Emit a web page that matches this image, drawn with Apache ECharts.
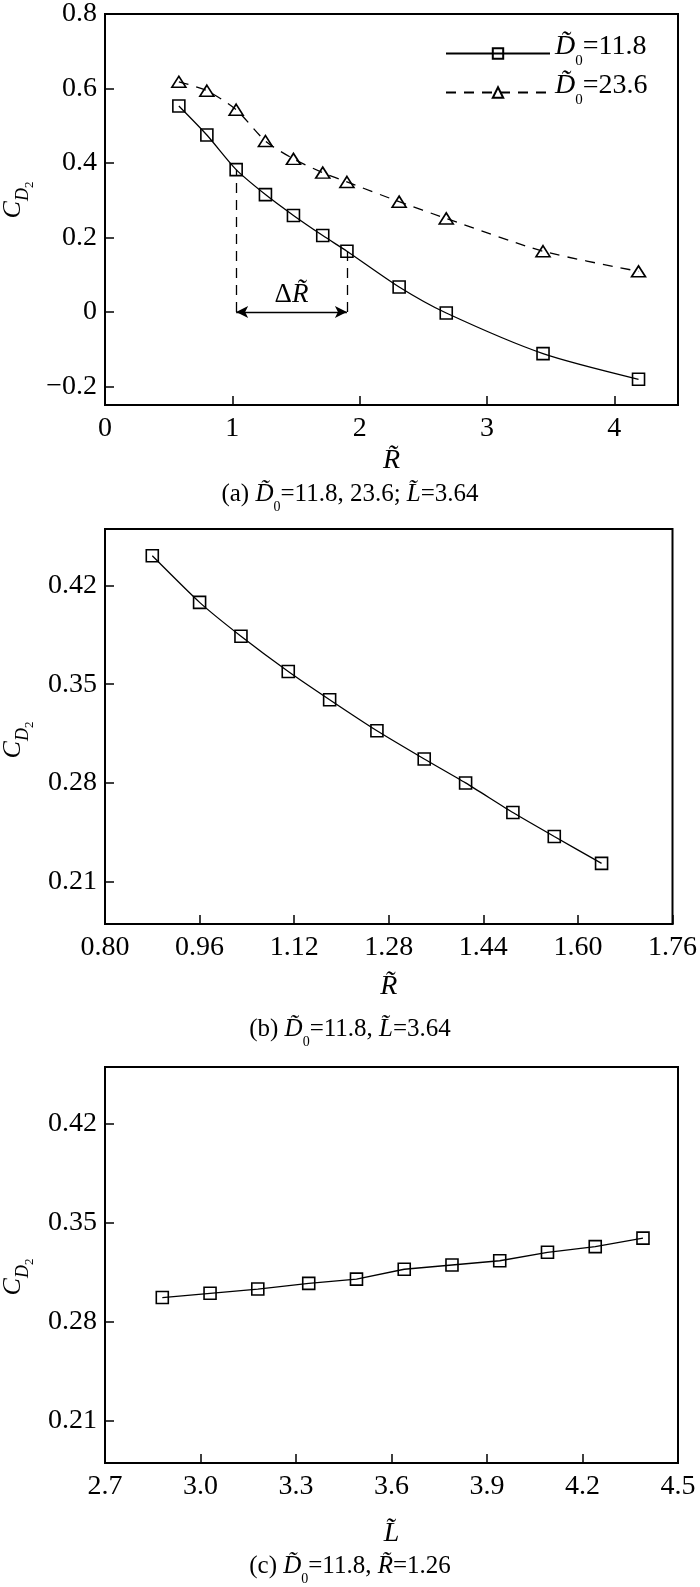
<!DOCTYPE html>
<html>
<head>
<meta charset="utf-8">
<script src="https://cdn.jsdelivr.net/npm/echarts@6/dist/echarts.min.js"></script>
<style>
html,body{margin:0;padding:0;background:#fff;}
#chart{width:700px;height:1587px;}
</style>
</head>
<body>
<div id="chart"></div>
<script>
// ---------- data ----------
// panel (a): C_D2 vs R~ for two D~0 values
const rA = [0.58, 0.80, 1.03, 1.26, 1.48, 1.71, 1.90, 2.31, 2.68, 3.44, 4.19];
const cdA_118 = [0.553, 0.475, 0.382, 0.315, 0.259, 0.205, 0.163, 0.067, -0.003, -0.112, -0.181];
const cdA_236 = [0.618, 0.594, 0.543, 0.459, 0.411, 0.374, 0.349, 0.296, 0.251, 0.163, 0.109];
const seriesNamesA = ['11.8', '23.6'];
// panel (b): C_D2 vs R~
const rB = [0.88, 0.96, 1.03, 1.11, 1.18, 1.26, 1.34, 1.41, 1.49, 1.56, 1.64];
const cdB = [0.441, 0.408, 0.384, 0.359, 0.339, 0.317, 0.297, 0.280, 0.259, 0.242, 0.223];
// panel (c): C_D2 vs L~
const lC = [2.88, 3.03, 3.18, 3.34, 3.49, 3.64, 3.79, 3.94, 4.09, 4.24, 4.39];
const cdC = [0.297, 0.300, 0.303, 0.307, 0.310, 0.317, 0.320, 0.323, 0.329, 0.333, 0.339];

// ticks and labels
const xTicksA = [0, 1, 2, 3, 4];
const xLabelsA = ['0', '1', '2', '3', '4'];
const yTicksA = [-0.2, 0, 0.2, 0.4, 0.6, 0.8];
const yLabelsA = ['\u22120.2', '0', '0.2', '0.4', '0.6', '0.8'];
const xTicksB = [0.80, 0.96, 1.12, 1.28, 1.44, 1.60, 1.76];
const xLabelsB = ['0.80', '0.96', '1.12', '1.28', '1.44', '1.60', '1.76'];
const yTicksBC = [0.21, 0.28, 0.35, 0.42];
const yLabelsBC = ['0.21', '0.28', '0.35', '0.42'];
const xTicksC = [2.7, 3.0, 3.3, 3.6, 3.9, 4.2, 4.5];
const xLabelsC = ['2.7', '3.0', '3.3', '3.6', '3.9', '4.2', '4.5'];

// ---------- helpers ----------
const FONT = '"Liberation Serif", "Times New Roman", serif';
const BLACK = '#000';
function pairs(xs, ys) { return xs.map((x, i) => [x, ys[i]]); }
function labeler(ticks, labels) {
  return function (v) {
    const i = ticks.findIndex(t => Math.abs(t - v) < 1e-9);
    return i >= 0 ? labels[i] : '';
  };
}
function makeSubRich(size, subSize, drop) {
  const main = { fontFamily: FONT, fontSize: size, lineHeight: size + 3, color: BLACK, padding: [0, 0, drop, 0], verticalAlign: 'bottom' };
  return {
    t: main,
    i: Object.assign({}, main, { fontStyle: 'italic' }),
    s: { fontFamily: FONT, fontSize: subSize, lineHeight: subSize + 1, color: BLACK, verticalAlign: 'bottom' }
  };
}
const richCaption = makeSubRich(25, 14, 7);
const richLegend = makeSubRich(28, 15, 8);
const richCD = {
  c: { fontFamily: FONT, fontSize: 26, lineHeight: 28, fontStyle: 'italic', color: BLACK, padding: [0, 0, 10, 0], verticalAlign: 'bottom' },
  d: { fontFamily: FONT, fontSize: 18, lineHeight: 20, fontStyle: 'italic', color: BLACK, padding: [0, 0, 4, 0], verticalAlign: 'bottom' },
  n: { fontFamily: FONT, fontSize: 13, lineHeight: 14, color: BLACK, verticalAlign: 'bottom' }
};
const cdText = '{c|C}{d|D}{n|2}';

function xAxisDef(gi, min, max, ticks, labels, nameChar, nameGap) {
  return {
    type: 'value', gridIndex: gi, min: min, max: max,
    name: '{r|' + nameChar + '\u0303}', nameLocation: 'middle', nameGap: nameGap,
    nameTextStyle: { rich: { r: { fontFamily: FONT, fontSize: 28, fontStyle: 'italic', color: BLACK } } },
    axisLine: { show: true, onZero: false, lineStyle: { color: BLACK, width: 2 } },
    axisTick: { show: true, inside: true, length: 9, customValues: ticks, lineStyle: { color: BLACK, width: 1.5 } },
    axisLabel: { show: true, margin: 10, customValues: ticks, formatter: labeler(ticks, labels),
      fontFamily: FONT, fontSize: 28, color: BLACK },
    splitLine: { show: false }
  };
}
function yAxisDef(gi, min, max, ticks, labels) {
  return {
    type: 'value', gridIndex: gi, min: min, max: max,
    axisLine: { show: true, onZero: false, lineStyle: { color: BLACK, width: 2 } },
    axisTick: { show: true, inside: true, length: 9, customValues: ticks, lineStyle: { color: BLACK, width: 1.5 } },
    axisLabel: { show: true, margin: 8, customValues: ticks, formatter: labeler(ticks, labels),
      fontFamily: FONT, fontSize: 28, color: BLACK },
    splitLine: { show: false }
  };
}
const hollowStyle = { color: 'rgba(0,0,0,0)', borderColor: BLACK, borderWidth: 1.6 };

const option = {
  animation: false,
  backgroundColor: '#fff',
  grid: [
    { left: 105, top: 10, width: 573, height: 395, show: true, borderColor: BLACK, borderWidth: 2, backgroundColor: 'transparent' },
    { left: 105, top: 529, width: 573, height: 395, show: true, borderColor: BLACK, borderWidth: 2, backgroundColor: 'transparent' },
    { left: 105, top: 1067, width: 573, height: 396, show: true, borderColor: BLACK, borderWidth: 2, backgroundColor: 'transparent' }
  ],
  xAxis: [
    xAxisDef(0, 0, 4.5, xTicksA, xLabelsA, 'R', 42),
    xAxisDef(1, 0.80, 1.76, xTicksB, xLabelsB, 'R', 49),
    xAxisDef(2, 2.7, 4.5, xTicksC, xLabelsC, 'L', 57)
  ],
  yAxis: [
    yAxisDef(0, -0.25, 0.8, yTicksA, yLabelsA),
    yAxisDef(1, 0.18, 0.46, yTicksBC, yLabelsBC),
    yAxisDef(2, 0.18, 0.46, yTicksBC, yLabelsBC)
  ],
  legend: {
    left: 440, top: 28, orient: 'vertical',
    itemWidth: 104, itemHeight: 13, itemGap: 3,
    data: seriesNamesA,
    formatter: function (name) { return '{i|D\u0303}{s|0}{t|=' + name + '}'; },
    textStyle: { rich: richLegend }
  },
  series: [
    {
      name: seriesNamesA[0], type: 'line', xAxisIndex: 0, yAxisIndex: 0,
      data: pairs(rA, cdA_118), smooth: 0.25,
      symbol: 'rect', symbolSize: 12, itemStyle: hollowStyle,
      lineStyle: { color: BLACK, width: 1.3 },
      markLine: {
        silent: true, symbol: 'none', symbolSize: [9, 12],
        lineStyle: { color: BLACK, width: 1.3, type: [10, 7] },
        label: { show: false },
        data: [
          [{ coord: [rA[2], 0] }, { coord: [rA[2], cdA_118[2]] }],
          [{ coord: [rA[6], 0] }, { coord: [rA[6], cdA_118[6]] }],
          [{ coord: [rA[2], 0], symbol: 'arrow',
             lineStyle: { type: 'solid', width: 1.3, color: BLACK },
             label: { show: true, position: 'middle', distance: 3,
               formatter: '{d|\u0394}{r|R\u0303}',
               rich: { d: { fontFamily: FONT, fontSize: 27, color: BLACK },
                       r: { fontFamily: FONT, fontSize: 27, fontStyle: 'italic', color: BLACK } } } },
           { coord: [rA[6], 0], symbol: 'arrow' }]
        ]
      }
    },
    {
      name: seriesNamesA[1], type: 'line', xAxisIndex: 0, yAxisIndex: 0,
      data: pairs(rA, cdA_236), smooth: 0.25,
      symbol: 'triangle', symbolSize: [14, 11], itemStyle: hollowStyle,
      lineStyle: { color: BLACK, width: 1.3, type: [10, 8] }
    },
    {
      name: 'b', type: 'line', xAxisIndex: 1, yAxisIndex: 1,
      data: pairs(rB, cdB), smooth: 0.2,
      symbol: 'rect', symbolSize: 12, itemStyle: hollowStyle,
      lineStyle: { color: BLACK, width: 1.3 }
    },
    {
      name: 'c', type: 'line', xAxisIndex: 2, yAxisIndex: 2,
      data: pairs(lC, cdC),
      symbol: 'rect', symbolSize: 12, itemStyle: hollowStyle,
      lineStyle: { color: BLACK, width: 1.3 }
    }
  ],
  graphic: [
    { type: 'text', x: 22, y: 200, rotation: Math.PI / 2,
      style: { text: cdText, rich: richCD, align: 'center', verticalAlign: 'middle' } },
    { type: 'text', x: 22, y: 740, rotation: Math.PI / 2,
      style: { text: cdText, rich: richCD, align: 'center', verticalAlign: 'middle' } },
    { type: 'text', x: 22, y: 1277, rotation: Math.PI / 2,
      style: { text: cdText, rich: richCD, align: 'center', verticalAlign: 'middle' } },
    { type: 'text', x: 350, y: 500, style: { text: '{t|(a) }{i|D\u0303}{s|0}{t|=11.8, 23.6; }{i|L\u0303}{t|=3.64}', rich: richCaption, align: 'center', verticalAlign: 'middle' } },
    { type: 'text', x: 350, y: 1035, style: { text: '{t|(b) }{i|D\u0303}{s|0}{t|=11.8, }{i|L\u0303}{t|=3.64}', rich: richCaption, align: 'center', verticalAlign: 'middle' } },
    { type: 'text', x: 350, y: 1572, style: { text: '{t|(c) }{i|D\u0303}{s|0}{t|=11.8, }{i|R\u0303}{t|=1.26}', rich: richCaption, align: 'center', verticalAlign: 'middle' } }
  ]
};

const chart = echarts.init(document.getElementById('chart'), null, { renderer: 'canvas' });
chart.setOption(option);
</script>
</body>
</html>
